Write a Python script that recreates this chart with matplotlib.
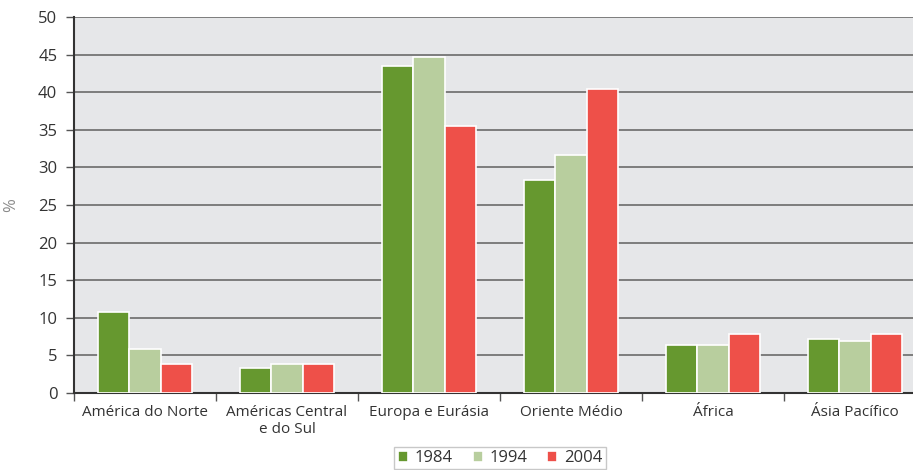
import matplotlib
matplotlib.use("Agg")
import matplotlib.pyplot as plt
import numpy as np

categories = ["América do Norte", "Américas Central\ne do Sul", "Europa e Eurásia",
              "Oriente Médio", "África", "Ásia Pacífico"]
series_names = ["1984", "1994", "2004"]
v1984 = [10.8, 3.3, 43.5, 28.3, 6.4, 7.2]
v1994 = [5.8, 3.9, 44.7, 31.7, 6.4, 6.9]
v2004 = [3.9, 3.9, 35.5, 40.4, 7.8, 7.8]
yticks = [0, 5, 10, 15, 20, 25, 30, 35, 40, 45, 50]

colors = ["#66982f", "#b8ce9e", "#ee5049"]
plt.rcParams['font.family'] = ['Open Sans', 'DejaVu Sans']

fig = plt.figure(figsize=(9.13, 4.70), dpi=100)
ax = fig.add_axes([74/913, 77/470, 852/913, 376/470])
ax.set_facecolor("#e6e7e9")

x = np.arange(len(categories))
w = 0.22
for i, (vals, name) in enumerate(zip([v1984, v1994, v2004], series_names)):
    ax.bar(x + (i - 1) * w, vals, w, color=colors[i], edgecolor="white",
           linewidth=1.2, label=name, zorder=3)

ax.set_xlim(-0.5, len(categories) - 0.5)
ax.set_ylim(0, 50)
ax.set_yticks(yticks)
ax.yaxis.grid(True, color="#7d7d7d", linewidth=1.4, zorder=1)
ax.set_axisbelow(True)

ax.set_xticks(x)
ax.set_xticklabels(categories, fontsize=11, color="#333333", linespacing=1.1)
ax.tick_params(axis="x", length=0, pad=9)
ax.set_xticks(np.arange(len(categories) + 1) - 0.5, minor=True)
ax.tick_params(axis="x", which="minor", length=6, color="#555555", width=1)
ax.tick_params(axis="y", length=6, color="#555555", width=1, labelsize=12,
               labelcolor="#333333", pad=6)

for s in ["top", "right"]:
    ax.spines[s].set_visible(False)
for s in ["left", "bottom"]:
    ax.spines[s].set_color("#333333")
    ax.spines[s].set_linewidth(1.5)

ax.set_ylabel("%", color="#8a8a8a", fontsize=12, labelpad=14)

leg = ax.legend(loc="upper center", bbox_to_anchor=(0.5, -0.143), ncol=3,
                frameon=True, fancybox=False, fontsize=12, handlelength=0.6,
                handleheight=0.6, handletextpad=0.4, columnspacing=1.2,
                borderpad=0.2, borderaxespad=0)
leg.get_frame().set_edgecolor("#bbbbbb")
leg.get_frame().set_linewidth(1)
for t in leg.get_texts():
    t.set_color("#333333")

fig.savefig("out.png", dpi=100)
